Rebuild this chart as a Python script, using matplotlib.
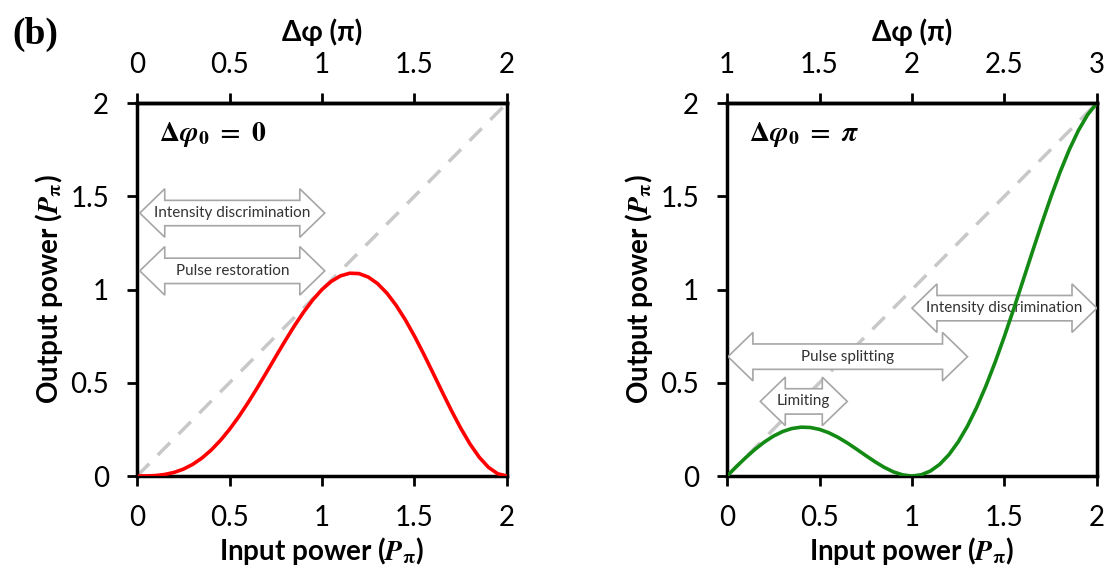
import matplotlib
matplotlib.use('Agg')
import matplotlib.pyplot as plt
from matplotlib.patches import Polygon

plt.rcParams['font.family'] = ['Lato', 'DejaVu Sans']
plt.rcParams['mathtext.fontset'] = 'stix'

# input power (P_pi)
power_in = [0.0, 0.05, 0.1, 0.15, 0.2, 0.25, 0.3, 0.35, 0.4, 0.45, 0.5,
            0.55, 0.6, 0.65, 0.7, 0.75, 0.8, 0.85, 0.9, 0.95, 1.0,
            1.05, 1.1, 1.15, 1.2, 1.25, 1.3, 1.35, 1.4, 1.45, 1.5,
            1.55, 1.6, 1.65, 1.7, 1.75, 1.8, 1.85, 1.9, 1.95, 2.0]
# output power, dphi0 = 0 (red)
out_phi0 = [0.0, 0.0003, 0.0024, 0.0082, 0.0191, 0.0366, 0.0618, 0.0956, 0.1382, 0.1898, 0.25,
            0.318, 0.3927, 0.4726, 0.5557, 0.6402, 0.7236, 0.8037, 0.878, 0.9442, 1.0,
            1.0435, 1.0731, 1.0873, 1.0854, 1.0669, 1.0321, 0.9814, 0.9163, 0.8384, 0.75,
            0.6538, 0.5528, 0.4505, 0.3504, 0.2563, 0.1719, 0.1008, 0.0465, 0.012, 0.0]
# output power, dphi0 = pi (green)
out_phipi = [0.0, 0.0497, 0.0976, 0.1418, 0.1809, 0.2134, 0.2382, 0.2545, 0.2618, 0.2602, 0.25,
             0.232, 0.2073, 0.1775, 0.1443, 0.1098, 0.0764, 0.0463, 0.022, 0.0059, 0.0,
             0.0065, 0.0269, 0.0627, 0.1146, 0.1831, 0.2679, 0.3686, 0.4837, 0.6116, 0.75,
             0.8962, 1.0472, 1.1995, 1.3496, 1.4937, 1.6281, 1.7492, 1.8535, 1.938, 2.0]

ticks = [0, 0.5, 1, 1.5, 2]
tick_labels = ['0', '0.5', '1', '1.5', '2']
top_left_labels = ['0', '0.5', '1', '1.5', '2']
top_right_labels = ['1', '1.5', '2', '2.5', '3']

# double arrows: (x start, x end, y centre, label)
arrows_left = [(0.015, 1.015, 1.41, 'Intensity discrimination'),
               (0.015, 1.015, 1.10, 'Pulse restoration')]
arrows_right = [(1.0, 2.0, 0.90, 'Intensity discrimination'),
                (0.005, 1.30, 0.64, 'Pulse splitting'),
                (0.18, 0.65, 0.40, 'Limiting')]

fig = plt.figure(figsize=(11.13, 5.8), dpi=100)
ax1 = fig.add_axes([0.1231, 0.1793, 0.3324, 0.6431])
ax2 = fig.add_axes([0.6532, 0.1793, 0.3324, 0.6431])


def double_arrow(ax, x0, x1, yc, label):
    hl = 0.135
    hh = 0.13
    bh = 0.068
    pts = [(x0, yc), (x0 + hl, yc + hh), (x0 + hl, yc + bh), (x1 - hl, yc + bh),
           (x1 - hl, yc + hh), (x1, yc), (x1 - hl, yc - hh), (x1 - hl, yc - bh),
           (x0 + hl, yc - bh), (x0 + hl, yc - hh)]
    ax.add_patch(Polygon(pts, closed=True, fc='white', ec='#a6a6a6', lw=1.2,
                         zorder=3, clip_on=False))
    ax.text((x0 + x1) / 2, yc, label, ha='center', va='center', fontsize=11,
            color='#333333', zorder=4)


def style_axes(ax, top_labels, y, color, note, arrows):
    ax.plot(power_in, y, color=color, lw=2.6, zorder=5)
    ax.plot([0, 2], [0, 2], color='#c8c8c8', lw=2.5, dashes=(5, 3.5), zorder=2)
    for a in arrows:
        double_arrow(ax, *a)
    ax.set_xlim(0, 2)
    ax.set_ylim(0, 2)
    ax.set_xticks(ticks)
    ax.set_xticklabels(tick_labels)
    ax.set_yticks(ticks)
    ax.set_yticklabels(tick_labels)
    for s in ax.spines.values():
        s.set_linewidth(2.5)
    ax.tick_params(direction='out', length=7, width=2, labelsize=20,
                   top=False, right=False)
    ax.tick_params(axis='x', pad=14)
    ax.tick_params(axis='y', pad=13)
    ax.set_xlabel(r'Input power ($\mathbfit{P}_{\mathbf{\pi}}$)', fontsize=20,
                  fontweight='bold', labelpad=3)
    ax.set_ylabel(r'Output power ($\mathbfit{P}_{\mathbf{\pi}}$)', fontsize=20,
                  fontweight='bold', labelpad=4)
    top = ax.twiny()
    top.set_xlim(0, 2)
    top.set_xticks(ticks)
    top.set_xticklabels(top_labels)
    top.spines['top'].set_linewidth(2.5)
    top.tick_params(direction='out', length=7, width=2, labelsize=20, pad=11)
    top.set_xlabel('Δφ (π)', fontsize=20, fontweight='bold', labelpad=8)
    ax.text(0.12, 1.83, note, fontsize=20, ha='left', va='center')


style_axes(ax1, top_left_labels, out_phi0, '#ff0000',
           r'$\mathbf{\Delta}\mathbfit{\varphi}_{\mathbf{0}}\mathbf{\ =\ 0}$', arrows_left)
style_axes(ax2, top_right_labels, out_phipi, '#138a13',
           r'$\mathbf{\Delta}\mathbfit{\varphi}_{\mathbf{0}}\mathbf{\ =\ }\mathbfit{\pi}$', arrows_right)

fig.text(0.011, 0.94, '(b)', fontsize=27, fontweight='bold',
         family='Liberation Serif', va='center')

fig.savefig('out.png', dpi=100)
